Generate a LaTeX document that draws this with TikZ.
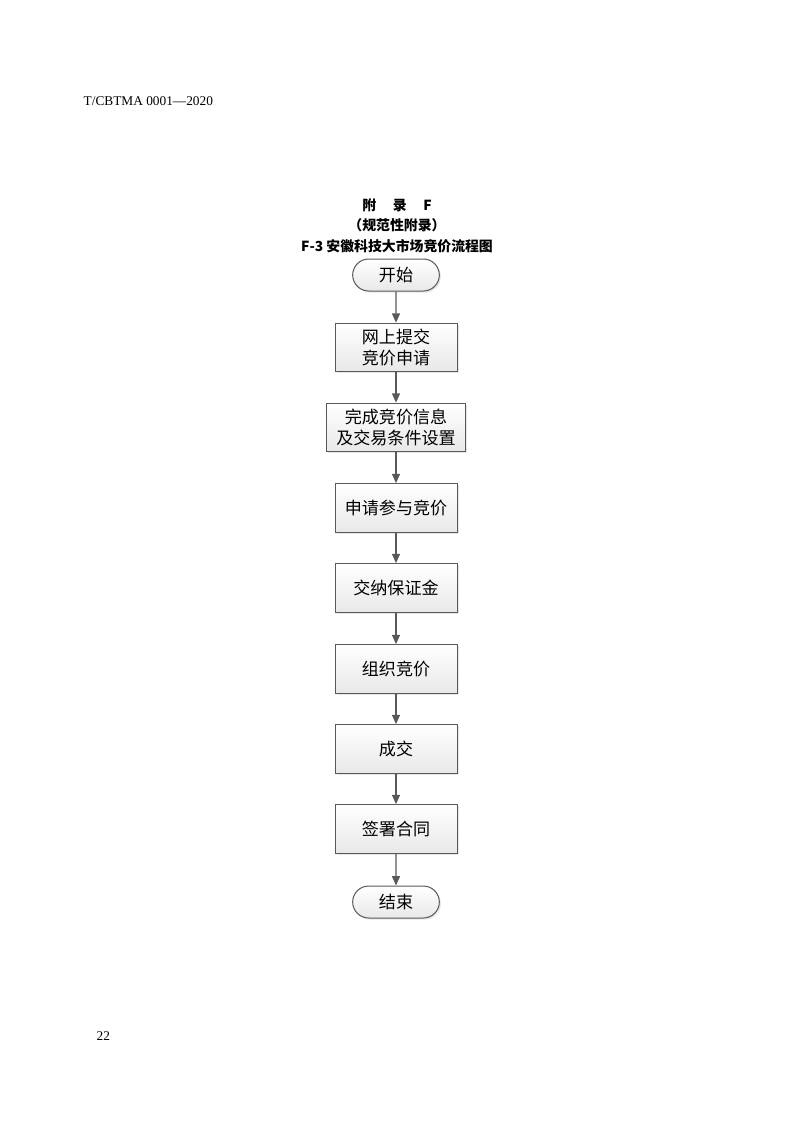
\documentclass[tikz,border=0pt]{standalone}
\usepackage{fontspec}
\setmainfont{Liberation Serif}
\newfontfamily\cjk{Noto Sans CJK SC}
\usetikzlibrary{shapes.misc,arrows.meta,shadows}
\definecolor{edgegray}{HTML}{595959}
\tikzset{
  base/.style={draw=edgegray, line width=0.75pt, top color=white, bottom color=black!9,
    drop shadow={shadow xshift=1.2pt, shadow yshift=-1.2pt, opacity=0.2},
    font=\cjk\fontsize{12.8}{15.5}\selectfont, align=center, inner sep=0pt},
  procbox/.style={base, rectangle, minimum width=91.5pt, minimum height=36.5pt},
  widebox/.style={base, rectangle, minimum width=104pt, minimum height=36.5pt},
  termbox/.style={base, rounded rectangle, minimum width=65pt, minimum height=24pt},
  flow/.style={draw=edgegray, line width=1pt, -{Triangle[length=7pt,width=6pt]}},
  titletext/.style={font=\cjk\bfseries\fontsize{10.4}{12}\selectfont},
}
\begin{document}
\begin{tikzpicture}[x=0.75pt,y=-0.75pt]
\useasboundingbox (0,0) rectangle (793,1122);
\node[anchor=west, font=\fontsize{10}{12}\selectfont] (hdr) at (79,101) {T/CBTMA 0001—2020};
\node[anchor=west, font=\fontsize{10}{12}\selectfont] (pg) at (92,1036) {22};
\node[titletext] (t1) at (397,205) {附\hspace{1.2em}录\hspace{1.2em}F};
\node[titletext] (t2) at (397,225) {（规范性附录）};
\node[titletext] (t3) at (397,246) {F-3 安徽科技大市场竞价流程图};
\node[termbox] (start) at (396,275) {开始};
\node[procbox] (b1) at (396,347.5) {网上提交\\竞价申请};
\node[widebox] (b2) at (396,427.5) {完成竞价信息\\及交易条件设置};
\node[procbox] (b3) at (396,508) {申请参与竞价};
\node[procbox] (b4) at (396,588) {交纳保证金};
\node[procbox] (b5) at (396,669) {组织竞价};
\node[procbox] (b6) at (396,749) {成交};
\node[procbox] (b7) at (396,829) {签署合同};
\node[termbox] (end) at (396,902) {结束};
\draw[flow] (start) -- (b1);
\draw[flow] (b1) -- (b2);
\draw[flow] (b2) -- (b3);
\draw[flow] (b3) -- (b4);
\draw[flow] (b4) -- (b5);
\draw[flow] (b5) -- (b6);
\draw[flow] (b6) -- (b7);
\draw[flow] (b7) -- (end);
\end{tikzpicture}
\end{document}
